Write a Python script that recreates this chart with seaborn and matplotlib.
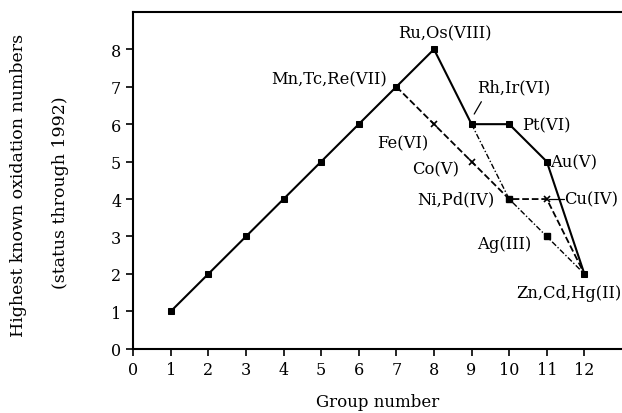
import matplotlib
matplotlib.use('Agg')
import matplotlib.pyplot as plt
import seaborn as sns
import pandas as pd

# --- data ---
groups_main = [1, 2, 3, 4, 5, 6, 7, 8, 9, 10, 11, 12]
ox_main = [1, 2, 3, 4, 5, 6, 7, 8, 6, 6, 5, 2]

groups_dash = [7, 8, 9, 10, 11, 12]
ox_dash = [7, 6, 5, 4, 4, 2]

groups_dashdot = [9, 10, 11, 12]
ox_dashdot = [6, 4, 3, 2]

# extra square markers off the main line (Ni,Pd and Ag)
groups_sq = [10, 11]
ox_sq = [4, 3]
# cross markers (Fe, Co, Cu)
groups_x = [8, 9, 11]
ox_x = [6, 5, 4]

labels = ['Ru,Os(VIII)', 'Mn,Tc,Re(VII)', 'Rh,Ir(VI)', 'Pt(VI)', 'Fe(VI)', 'Co(V)',
          'Au(V)', 'Ni,Pd(IV)', 'Cu(IV)', 'Ag(III)', 'Zn,Cd,Hg(II)']
label_x = [8.28, 6.75, 10.13, 10.98, 7.17, 8.04, 11.1, 8.57, 11.46, 9.87, 11.6]
label_y = [8.45, 7.2, 7.0, 5.97, 5.5, 4.8, 5.0, 4.0, 4.0, 2.8, 1.5]
label_ha = ['center', 'right', 'center', 'center', 'center', 'center',
            'left', 'center', 'left', 'center', 'center']

sns.set_style('ticks')
plt.rcParams['font.family'] = ['DejaVu Serif']
plt.rcParams['text.color'] = 'black'
plt.rcParams['axes.labelcolor'] = 'black'

fig = plt.figure(figsize=(6.22, 4.14), dpi=100)
ax = fig.add_axes([0.214, 0.155, 0.786, 0.814])

main = pd.DataFrame({'g': groups_main, 'ox': ox_main})
sns.lineplot(data=main, x='g', y='ox', color='black', lw=1.5, marker='s',
             markersize=4.5, markeredgecolor='black', sort=False, estimator=None, ax=ax)
sns.lineplot(x=groups_dash, y=ox_dash, color='black', lw=1.3, linestyle='--',
             sort=False, estimator=None, ax=ax)
sns.lineplot(x=groups_dashdot, y=ox_dashdot, color='black', lw=1.0,
             linestyle=(0, (4, 1.5, 1, 1.5)), sort=False, estimator=None, ax=ax)
ax.plot(groups_sq, ox_sq, 's', color='black', markersize=4.5)
ax.plot(groups_x, ox_x, 'x', color='black', markersize=4, mew=1.2)

for t, lx, ly, ha in zip(labels, label_x, label_y, label_ha):
    ax.text(lx, ly, t, ha=ha, va='center', fontsize=11.8, color='black')

# leader lines
ax.plot([9.07, 9.26], [6.27, 6.6], color='black', lw=0.9)
ax.plot([11.05, 11.45], [4.0, 4.0], color='black', lw=0.9)

ax.set_xlim(0, 13)
ax.set_ylim(0, 9)
ax.set_xticks(range(0, 13))
ax.set_yticks(range(0, 9))
ax.tick_params(direction='out', length=5, width=1.2, labelsize=11.5, colors='black')
for s in ['left', 'bottom', 'top']:
    ax.spines[s].set_linewidth(1.5)
    ax.spines[s].set_color('black')
ax.spines['right'].set_visible(False)

ax.set_xlabel('Group number', fontsize=12, labelpad=11)
ax.set_ylabel('')
fig.text(0.029, 0.553, 'Highest known oxidation numbers', rotation=90,
         ha='center', va='center', fontsize=12.5)
fig.text(0.097, 0.534, '(status through 1992)', rotation=90,
         ha='center', va='center', fontsize=12.5)

fig.savefig('out.png', dpi=100)
